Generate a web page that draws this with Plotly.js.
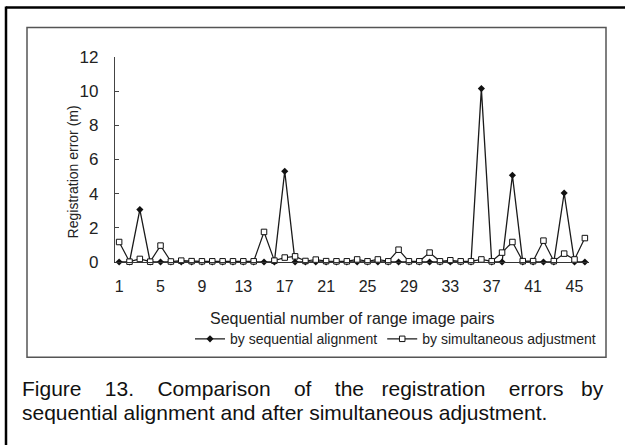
<!DOCTYPE html>
<html><head><meta charset="utf-8">
<script src="https://cdn.plot.ly/plotly-3.0.1.min.js"></script>
<style>html,body{margin:0;padding:0;background:#fff;}#chart{width:625px;height:445px;}</style>
</head><body><div id="chart"></div>
<script>
const pairs = [1,2,3,4,5,6,7,8,9,10,11,12,13,14,15,16,17,18,19,20,21,22,23,24,25,26,27,28,29,30,31,32,33,34,35,36,37,38,39,40,41,42,43,44,45,46];
const sequentialAlignment = [0,0,3.07,0,0,0,0,0,0,0,0,0,0,0,0,0,5.31,0,0,0,0,0,0,0,0,0,0,0,0,0,0,0,0,0,0,10.15,0,0,5.08,0,0,0,0,4.04,0,0];
const simultaneousAdjustment = [1.17,0.02,0.18,0.02,0.96,0.03,0.08,0.05,0.04,0.04,0.04,0.04,0.04,0.04,1.76,0.08,0.26,0.33,0.06,0.14,0.05,0.04,0.04,0.15,0.04,0.15,0.04,0.72,0.04,0.04,0.55,0.04,0.1,0.04,0.04,0.15,0.04,0.55,1.17,0.05,0.05,1.25,0.05,0.49,0.15,1.4];
const xTicks = [1,5,9,13,17,21,25,29,33,37,41,45];
const yTicks = [0,2,4,6,8,10,12];

const L = 115, R = 589, T = 56.5, B = 261.7;
const W = R - L, H = B - T;
const px = v => (v - L) / W;
const py = v => (B - v) / H;

const SANS = "'Liberation Sans', Arial, sans-serif";
const CAP = "'Liberation Sans Narrow', 'Arial Narrow', 'Liberation Sans', Arial, sans-serif";
const S3 = '&nbsp;&nbsp;&nbsp;', S4 = '&nbsp;&nbsp;&nbsp;&nbsp;';

const traces = [
  {x: pairs, y: sequentialAlignment, name: 'by sequential alignment', type: 'scatter', mode: 'lines+markers',
   line: {color: '#1a1a1a', width: 1.3}, marker: {symbol: 'diamond', size: 5.5, color: '#111'}, cliponaxis: false},
  {x: pairs, y: simultaneousAdjustment, name: 'by simultaneous adjustment', type: 'scatter', mode: 'lines+markers',
   line: {color: '#1a1a1a', width: 1.2}, marker: {symbol: 'square', size: 5.5, color: '#fff', line: {color: '#111', width: 1}}, cliponaxis: false}
];

const tickFont = {family: SANS, size: 16, color: '#222'};
const layout = {
  width: 625, height: 445,
  margin: {l: L, r: 625 - R, t: T, b: 445 - B, pad: 0},
  paper_bgcolor: '#fff', plot_bgcolor: '#fff',
  showlegend: true,
  legend: {orientation: 'h', x: px(190), xanchor: 'left', y: py(339), yanchor: 'middle',
           font: {family: SANS, size: 14, color: '#222'},
           itemsizing: 'trace', tracegroupgap: 0, itemwidth: 30, bgcolor: 'rgba(0,0,0,0)'},
  xaxis: {range: [0.6, 46.4], tickmode: 'array', tickvals: xTicks, ticktext: xTicks.map(String),
          showgrid: false, zeroline: false, showline: true, linecolor: '#333', linewidth: 1.2,
          ticks: '', tickfont: tickFont, ticklabelstandoff: 10, fixedrange: true},
  yaxis: {range: [0, 12], tickmode: 'array', tickvals: yTicks, ticktext: yTicks.map(String),
          showgrid: false, zeroline: false, showline: true, linecolor: '#444', linewidth: 1.2,
          ticks: 'inside', ticklen: 4, tickcolor: '#444', tickfont: Object.assign({}, tickFont, {size: 17}),
          ticklabelstandoff: 12, fixedrange: true},
  annotations: [
    {text: 'Registration error (m)', xref: 'paper', yref: 'paper', x: px(73), y: py(172), textangle: -90,
     showarrow: false, xanchor: 'center', yanchor: 'middle',
     font: {family: SANS, size: 14, color: '#222'}},
    {text: 'Sequential number of range image pairs', xref: 'paper', yref: 'paper', x: px(352), y: py(318),
     showarrow: false, xanchor: 'center', yanchor: 'middle',
     font: {family: SANS, size: 16, color: '#222'}},
    {text: 'Figure' + S4 + '13.' + S4 + 'Comparison' + S4 + 'of' + S4 + 'the' + S3 + 'registration' + S4 + 'errors' + S3 + 'by',
     xref: 'paper', yref: 'paper', x: px(20), y: py(388), showarrow: false, xanchor: 'left', yanchor: 'middle',
     font: {family: CAP, size: 21, color: '#111'}},
    {text: 'sequential alignment and after simultaneous adjustment.',
     xref: 'paper', yref: 'paper', x: px(20), y: py(412), showarrow: false, xanchor: 'left', yanchor: 'middle',
     font: {family: CAP, size: 21, color: '#111'}}
  ],
  shapes: [
    {type: 'rect', xref: 'paper', yref: 'paper', x0: px(27), x1: px(606), y0: py(357), y1: py(27),
     line: {color: '#555', width: 1.5}, fillcolor: 'rgba(0,0,0,0)'},
    {type: 'line', xref: 'paper', yref: 'paper', x0: px(6), x1: px(6), y0: py(6), y1: py(460),
     line: {color: '#000', width: 2.5}},
    {type: 'line', xref: 'paper', yref: 'paper', x0: px(6), x1: px(640), y0: py(7), y1: py(7),
     line: {color: '#000', width: 2.5}}
  ]
};
Plotly.newPlot('chart', traces, layout, {displayModeBar: false, staticPlot: true});
</script></body></html>
